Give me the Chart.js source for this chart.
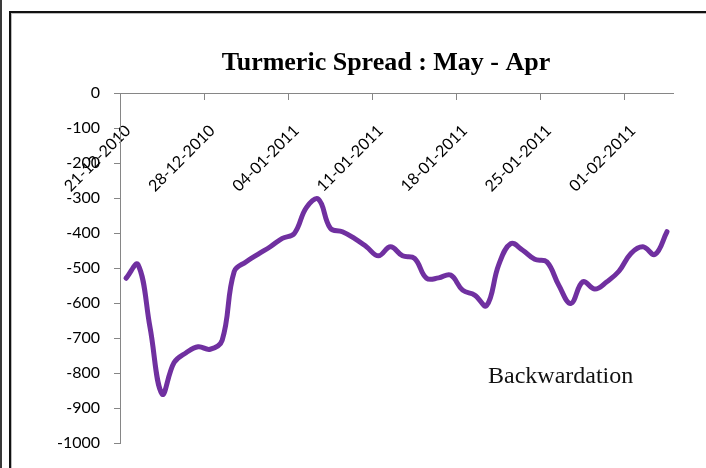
<!DOCTYPE html>
<html>
<head>
<meta charset="utf-8">
<script src="https://cdn.jsdelivr.net/npm/chart.js@4"></script>
<style>
    body { margin: 0; background: #fff; overflow: hidden; }
    #wrap { position: relative; width: 706px; height: 468px; overflow: hidden; }
    #spreadChart { position: absolute; left: 0; top: 0; }
    #outer-line { position: absolute; left: 0; top: 0; width: 2px; height: 468px; background: #3a3a3a; }
    #frame { position: absolute; left: 9px; top: 11px; width: 760px; height: 500px;
             border-left: 2px solid #111; border-top: 2px solid #111;
             box-shadow: inset 1px 1px 0 #bbb; pointer-events: none; }
    #note { position: absolute; left: 488px; top: 363px; font: 24px "Liberation Serif", serif;
            line-height: 24px; color: #111; white-space: nowrap; }
</style>
</head>
<body>
<div id="wrap">
    <canvas id="spreadChart" width="740" height="468"></canvas>
    <div id="outer-line"></div>
    <div id="frame"></div>
    <div id="note">Backwardation</div>
</div>
<script>
const dates = [
    "21-12-2010", "22-12-2010", "23-12-2010", "24-12-2010", "25-12-2010", "26-12-2010", "27-12-2010",
    "28-12-2010", "29-12-2010", "30-12-2010", "31-12-2010", "01-01-2011", "02-01-2011", "03-01-2011",
    "04-01-2011", "05-01-2011", "06-01-2011", "07-01-2011", "08-01-2011", "09-01-2011", "10-01-2011",
    "11-01-2011", "12-01-2011", "13-01-2011", "14-01-2011", "15-01-2011", "16-01-2011", "17-01-2011",
    "18-01-2011", "19-01-2011", "20-01-2011", "21-01-2011", "22-01-2011", "23-01-2011", "24-01-2011",
    "25-01-2011", "26-01-2011", "27-01-2011", "28-01-2011", "29-01-2011", "30-01-2011", "31-01-2011",
    "01-02-2011", "02-02-2011", "03-02-2011", "04-02-2011"
];

// spread values
const spread = [
    -529, -490, -670, -860, -770, -742, -725,
    -732, -706, -510, -482, -460, -439, -415,
    -401, -327, -303, -386, -396, -415, -439,
    -465, -439, -465, -472, -529, -528, -520,
    -563, -577, -607, -491, -430, -449, -475,
    -482, -549, -601, -539, -560, -539, -509,
    -458, -439, -461, -396
];

const titleText = "Turmeric Spread : May - Apr";
const labelEvery = 7;
const axisGray = "#868686";

const ctx = document.getElementById("spreadChart").getContext("2d");
new Chart(ctx, {
    type: "line",
    data: {
        labels: dates,
        datasets: [{
            data: spread,
            borderColor: "#7030A0",
            borderWidth: 5,
            pointRadius: 0,
            tension: 0.4,
            fill: false,
            borderCapStyle: "round",
            borderJoinStyle: "round"
        }]
    },
    options: {
        responsive: false,
        animation: false,
        devicePixelRatio: 1,
        // left + right are set so the title centres where the original one sits
        layout: { padding: { top: 0, left: 50, right: 18, bottom: 25 } },
        plugins: {
            legend: { display: false },
            tooltip: { enabled: false },
            title: {
                display: true,
                text: titleText,
                color: "#000",
                font: { family: "Liberation Serif", size: 26, weight: "bold" },
                padding: { top: 48, bottom: 14 }
            }
        },
        scales: {
            x: {
                type: "category",
                position: { y: 0 },
                offset: true,
                grid: {
                    offset: true,
                    drawOnChartArea: false,
                    drawTicks: true,
                    tickLength: 6,
                    tickColor: (c) => (c.index % labelEvery === 0 ? axisGray : "transparent")
                },
                border: { display: true, color: axisGray, width: 1 },
                ticks: {
                    autoSkip: false,
                    maxRotation: 45,
                    minRotation: 45,
                    padding: 22,
                    labelOffset: 2,
                    color: "#000",
                    font: { family: "Lato", size: 16 },
                    callback: function (value, index) {
                        return index % labelEvery === 0 ? this.getLabelForValue(value) : "";
                    }
                },
                afterFit: (s) => { s.paddingLeft = 0; s.paddingRight = 0; }
            },
            y: {
                min: -1000,
                max: 0,
                grid: { drawOnChartArea: false, tickLength: 6, tickColor: axisGray },
                border: { display: true, color: axisGray, width: 1 },
                ticks: {
                    stepSize: 100,
                    padding: 14,
                    color: "#000",
                    font: { family: "Lato", size: 16 },
                    callback: (v) => String(v)
                },
                afterFit: (s) => { s.width = 70; s.paddingTop = 0; s.paddingBottom = 0; }
            },
            // empty spacer on the right, only there to balance the title
            spacer: {
                type: "linear",
                position: "right",
                display: true,
                grid: { display: false },
                border: { display: false },
                ticks: { display: false },
                afterFit: (s) => { s.width = 49; }
            }
        }
    }
});
</script>
</body>
</html>
